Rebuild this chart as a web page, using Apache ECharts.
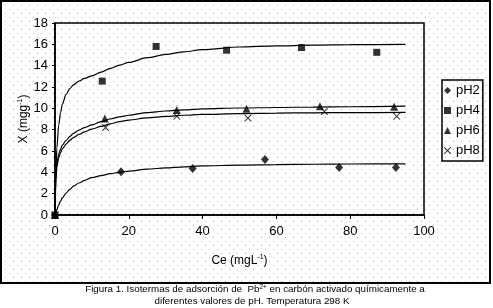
<!DOCTYPE html>
<html>
<head>
<meta charset="utf-8">
<script src="https://cdn.jsdelivr.net/npm/echarts@6/dist/echarts.min.js"></script>
<style>
  html, body { margin: 0; padding: 0; background: #fff; }
  #chart { width: 493px; height: 308px; }
</style>
</head>
<body>
<div id="chart"></div>
<script>
// measured points (Ce, X)
const ph2X = [0, 17.9, 37.3, 56.9, 77, 92.4];
const ph2Y = [0, 4.05, 4.35, 5.2, 4.45, 4.45];
const ph4X = [0, 12.8, 27.4, 46.5, 66.8, 87.2];
const ph4Y = [0, 12.55, 15.8, 15.45, 15.7, 15.25];
const ph6X = [0, 13.5, 33, 51.9, 71.8, 91.9];
const ph6Y = [0, 9.05, 9.85, 9.95, 10.2, 10.15];
const ph8X = [0, 13.7, 33, 52.3, 73, 92.6];
const ph8Y = [0, 8.2, 9.25, 9.1, 9.7, 9.25];

// fitted isotherm curves
const fitX = [0, 0.25, 0.5, 1, 1.5, 2, 3, 4, 5, 6.5, 8, 10, 12.5, 15, 17.5, 20, 25, 30, 35, 40, 50, 60, 70, 80, 95];
const fit2 = [0, 0.25, 0.5, 0.95, 1.3, 1.6, 2.05, 2.4, 2.7, 3.0, 3.25, 3.5, 3.7, 3.88, 4.0, 4.12, 4.3, 4.42, 4.52, 4.6, 4.68, 4.73, 4.76, 4.78, 4.8];
const fit4 = [0, 4.0, 6.3, 8.4, 9.6, 10.4, 11.3, 11.85, 12.2, 12.55, 12.8, 13.05, 13.4, 13.75, 14.05, 14.3, 14.75, 15.05, 15.3, 15.5, 15.75, 15.85, 15.92, 15.97, 16.0];
const fit6 = [0, 3.6, 4.8, 5.7, 6.2, 6.55, 7.0, 7.35, 7.65, 7.95, 8.2, 8.45, 8.75, 9.0, 9.2, 9.35, 9.6, 9.75, 9.85, 9.95, 10.03, 10.08, 10.12, 10.15, 10.2];
const fit8 = [0, 3.4, 4.5, 5.35, 5.85, 6.2, 6.65, 7.0, 7.25, 7.55, 7.8, 8.05, 8.3, 8.55, 8.75, 8.9, 9.1, 9.25, 9.35, 9.43, 9.5, 9.55, 9.58, 9.6, 9.62];

const seriesNames = ['pH2', 'pH4', 'pH6', 'pH8'];
const xTicks = [0, 100, 20];
const yTicks = [0, 18, 2];

const font = 'Liberation Sans, Arial, sans-serif';
const narrow = 'Liberation Sans Narrow, Arial Narrow, Liberation Sans, sans-serif';
const pair = (xs, ys) => xs.map((x, i) => [x, ys[i]]);

// dotted background like the old spreadsheet chart
const tile = document.createElement('canvas');
tile.width = 8; tile.height = 8;
const tctx = tile.getContext('2d');
tctx.fillStyle = '#fff';
tctx.fillRect(0, 0, 8, 8);
tctx.fillStyle = '#b8b8b8';
tctx.fillRect(1, 1, 1, 1);
tctx.fillRect(5, 5, 1, 1);

const crossPath = 'path://M0,0L1,0L5,4L9,0L10,0L10,1L6,5L10,9L10,10L9,10L5,6L1,10L0,10L0,9L4,5L0,1Z';

const chart = echarts.init(document.getElementById('chart'));

const fitLine = (name, ys) => ({
  name: name,
  type: 'line',
  data: pair(fitX, ys),
  showSymbol: false,
  smooth: 0.3,
  smoothMonotone: 'x',
  silent: true,
  lineStyle: { color: '#000', width: 1.2 },
  z: 2
});

const dots = (name, xs, ys, symbol, size) => ({
  name: name,
  type: 'scatter',
  data: pair(xs, ys),
  symbol: symbol,
  symbolSize: size,
  itemStyle: { color: '#000' },
  z: 3
});

const option = {
  animation: false,
  backgroundColor: '#fff',
  textStyle: { fontFamily: font },
  graphic: [
    {
      type: 'rect',
      z: -10,
      shape: { x: 1, y: 1, width: 489, height: 282 },
      style: { fill: { image: tile, repeat: 'repeat' }, stroke: '#000', lineWidth: 2 }
    },
    {
      type: 'text',
      x: 255,
      y: 284,
      style: {
        text: 'Figura 1. Isotermas de adsorción de  Pb{s|2+} en carbón activado químicamente a',
        font: '9.8px ' + font,
        fill: '#000',
        align: 'center',
        rich: { s: { fontSize: 6.5, padding: [0, 0, 4, 0] } }
      }
    },
    {
      type: 'text',
      x: 252,
      y: 296,
      style: {
        text: 'diferentes valores de pH. Temperatura 298 K',
        font: '9.8px ' + font,
        fill: '#000',
        align: 'center'
      }
    }
  ],
  grid: {
    left: 55, top: 23, right: 69, bottom: 93,
    show: true,
    borderColor: '#000',
    borderWidth: 1.5,
    backgroundColor: 'transparent'
  },
  legend: {
    data: seriesNames,
    orient: 'vertical',
    left: 442,
    top: 80,
    padding: [4, 3, 4, 2],
    itemGap: 7,
    itemWidth: 7,
    itemHeight: 7,
    borderColor: '#000',
    borderWidth: 1.5,
    textStyle: { fontSize: 13, color: '#000', fontFamily: narrow }
  },
  xAxis: {
    type: 'value',
    min: xTicks[0],
    max: xTicks[1],
    interval: xTicks[2],
    name: 'Ce (mgL{s|-1})',
    nameLocation: 'middle',
    nameGap: 39,
    nameTextStyle: { fontSize: 12, color: '#000', rich: { s: { fontSize: 7, padding: [0, 0, 6, 0] } } },
    axisLine: { lineStyle: { color: '#000', width: 1.5 } },
    axisTick: { length: 4, lineStyle: { color: '#000' } },
    axisLabel: { fontSize: 13, color: '#000', margin: 10, fontFamily: narrow },
    splitLine: { show: false }
  },
  yAxis: {
    type: 'value',
    min: yTicks[0],
    max: yTicks[1],
    interval: yTicks[2],
    name: 'X (mgg{s|-1})',
    nameLocation: 'middle',
    nameGap: 25,
    nameMoveOverlap: false,
    nameTextStyle: { fontSize: 12, color: '#000', rich: { s: { fontSize: 7, padding: [0, 0, 6, 0] } } },
    axisLine: { show: true, lineStyle: { color: '#000', width: 1.5 } },
    axisTick: { show: true, length: 3, lineStyle: { color: '#000' } },
    axisLabel: { fontSize: 13, color: '#000', margin: 7, fontFamily: narrow },
    splitLine: { show: false }
  },
  series: [
    fitLine('fit2', fit2),
    fitLine('fit4', fit4),
    fitLine('fit6', fit6),
    fitLine('fit8', fit8),
    dots(seriesNames[0], ph2X, ph2Y, 'diamond', [8, 9]),
    dots(seriesNames[1], ph4X, ph4Y, 'rect', 7),
    dots(seriesNames[2], ph6X, ph6Y, 'triangle', [8, 8]),
    dots(seriesNames[3], ph8X, ph8Y, crossPath, 7)
  ]
};

chart.setOption(option);
</script>
</body>
</html>
